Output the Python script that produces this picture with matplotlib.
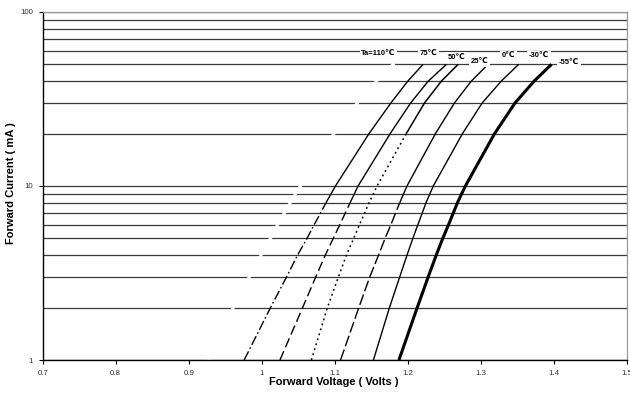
import matplotlib
matplotlib.use("Agg")
import matplotlib.pyplot as plt
from matplotlib.ticker import FixedLocator, NullLocator, FixedFormatter

plt.rcParams['font.family'] = ['Liberation Sans', 'DejaVu Sans']

# forward current levels (mA) at which each curve was read
current = [1, 2, 3, 4, 5, 6, 8, 10, 20, 30, 40, 50]

# forward voltage (V) per ambient temperature
vf_110 = [0.927, 0.961, 0.983, 0.999, 1.012, 1.022, 1.039, 1.053, 1.099, 1.131, 1.157, 1.180]
vf_75 = [0.976, 1.012, 1.034, 1.049, 1.062, 1.072, 1.088, 1.101, 1.147, 1.177, 1.200, 1.221]
vf_50 = [1.025, 1.056, 1.074, 1.087, 1.098, 1.107, 1.121, 1.132, 1.176, 1.204, 1.228, 1.253]
vf_25 = [1.068, 1.090, 1.105, 1.116, 1.126, 1.134, 1.147, 1.158, 1.198, 1.223, 1.246, 1.269]
vf_0 = [1.108, 1.133, 1.148, 1.160, 1.169, 1.177, 1.189, 1.199, 1.238, 1.264, 1.287, 1.310]
vf_m30 = [1.153, 1.175, 1.189, 1.199, 1.207, 1.214, 1.225, 1.235, 1.275, 1.302, 1.328, 1.352]
vf_m55 = [1.188, 1.213, 1.228, 1.239, 1.248, 1.256, 1.268, 1.279, 1.319, 1.347, 1.373, 1.397]

labels = ["Ta=110\u2103", "75\u2103", "50\u2103", "25\u2103", "0\u2103", "-30\u2103", "-55\u2103"]

x_ticks = [0.7, 0.8, 0.9, 1.0, 1.1, 1.2, 1.3, 1.4, 1.5]
x_tick_labels = ["0.7", "0.8", "0.9", "1", "1.1", "1.2", "1.3", "1.4", "1.5"]
y_ticks = [1, 10, 100]
y_tick_labels = ["1", "10", "100"]
grid_levels = [m * d for d in (1, 10) for m in range(1, 10)] + [100]

fig = plt.figure(figsize=(6.3, 3.99), dpi=100)
ax = fig.add_axes([0.0678, 0.0977, 0.927, 0.8723])
ax.set_yscale("log")
ax.set_xlim(0.7, 1.5)
ax.set_ylim(1, 100)

for g in grid_levels:
    ax.axhline(g, color="#3a3a3a", lw=0.9, zorder=1)

# hottest curve is white in the original: it only shows as gaps in the grid
ax.plot(vf_110, current, color="white", lw=2.2, zorder=2)

# (values, style of the low-current part, index where it turns solid, width)
series = [
    (vf_75, (0, (7, 2, 1.2, 2)), 6, 1.0),
    (vf_50, (0, (7, 3)), 6, 1.0),
    (vf_25, (0, (1.2, 2.2)), 8, 1.1),
    (vf_0, (0, (8, 2.5)), 6, 1.0),
    (vf_m30, "-", 0, 1.0),
    (vf_m55, "-", 0, 2.2),
]
for vals, ls, k, lw in series:
    if k > 0:
        ax.plot(vals[:k + 1], current[:k + 1], color="black", lw=lw,
                linestyle=ls, zorder=3)
    ax.plot(vals[k:], current[k:], color="black", lw=lw, zorder=3,
            solid_capstyle="butt", solid_joinstyle="round")

label_pos = [(1.160, 58), (1.228, 58), (1.267, 55), (1.298, 52),
             (1.338, 56), (1.380, 56), (1.421, 51.6)]
for txt, (lx, ly) in zip(labels, label_pos):
    ax.text(lx, ly, txt, fontsize=5.5, fontweight="bold", ha="center",
            va="center", zorder=4,
            bbox=dict(facecolor="white", edgecolor="none", pad=1.2))

ax.xaxis.set_major_locator(FixedLocator(x_ticks))
ax.xaxis.set_major_formatter(FixedFormatter(x_tick_labels))
ax.yaxis.set_major_locator(FixedLocator(y_ticks))
ax.yaxis.set_major_formatter(FixedFormatter(y_tick_labels))
ax.yaxis.set_minor_locator(NullLocator())
ax.tick_params(axis="both", labelsize=5.7, labelcolor="#333333",
               length=3, width=0.8, direction="out", pad=4)

for side in ("left", "bottom"):
    ax.spines[side].set_color("black")
    ax.spines[side].set_linewidth(1.0)
for side in ("right", "top"):
    ax.spines[side].set_color("#999999")
    ax.spines[side].set_linewidth(0.9)

fig.text(0.0175, 0.54, "Forward Current ( mA )", rotation=90, fontsize=8,
         fontweight="bold", ha="center", va="center")
fig.text(0.53, 0.043, "Forward Voltage ( Volts )", fontsize=8,
         fontweight="bold", ha="center", va="center")

fig.savefig("out.png", dpi=100, facecolor="white")
plt.close(fig)
